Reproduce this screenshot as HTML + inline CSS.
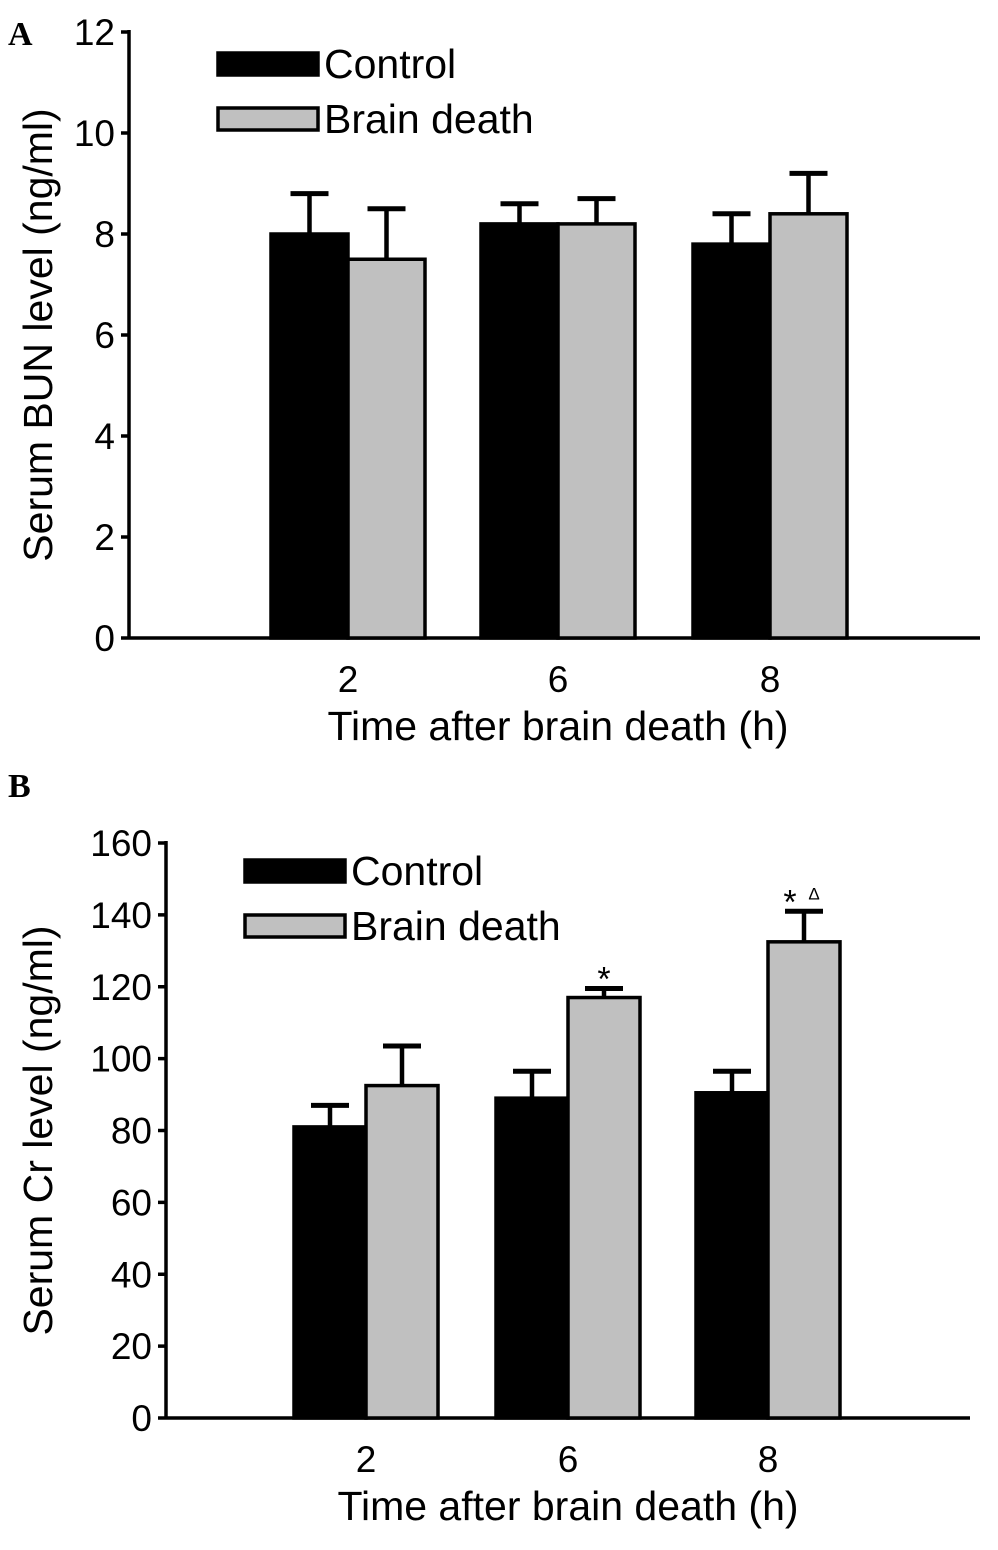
<!DOCTYPE html>
<html><head><meta charset="utf-8"><style>body{margin:0;background:#fff}svg{display:block}text{font-family:"Liberation Sans",Arial,sans-serif;fill:#000}</style></head>
<body>
<svg id="s" width="998" height="1550" viewBox="0 0 998 1550">
<text x="8" y="45" style="font-family:'Liberation Serif',serif;font-weight:bold;font-size:34px">A</text>
<text x="8" y="797" style="font-family:'Liberation Serif',serif;font-weight:bold;font-size:34px">B</text>
</svg>
<script>
const categories=["2","6","8"];
const bunControl=[8.0,8.2,7.8];
const bunControlErr=[0.8,0.4,0.6];
const bunBD=[7.5,8.2,8.4];
const bunBDErr=[1.0,0.5,0.8];
const bunTicks=[0,2,4,6,8,10,12];
const crControl=[81,89,90.5];
const crControlErr=[6,7.5,6];
const crBD=[92.5,117,132.5];
const crBDErr=[11,2.5,8.5];
const crTicks=[0,20,40,60,80,100,120,140,160];
const crMarks=["","*","*"];
const crMarks2=["","","Δ"];
const NS="http://www.w3.org/2000/svg";
const svg=document.getElementById('s');
function mk(t,a,p){const e=document.createElementNS(NS,t);for(const k in a)e.setAttribute(k,a[k]);(p||svg).appendChild(e);return e;}
function panel(o){
  const g=mk('g',{});
  
  
  const y=v=>o.y0-(v-o.min)/(o.max-o.min)*(o.y0-o.yTop);
  const ax=mk('line',{x1:o.ax,y1:o.yTop-2,x2:o.ax,y2:o.y0,stroke:'#000','stroke-width':3.5},g);
  
  const xa=mk('line',{x1:o.ax,y1:o.y0,x2:o.xEnd,y2:o.y0,stroke:'#000','stroke-width':3.5},g);
  
  o.ticks.forEach(t=>{
    const tk=mk('line',{x1:o.ax-8,y1:y(t),x2:o.ax,y2:y(t),stroke:'#000','stroke-width':3.5},g);
    
    const tl=mk('text',{x:o.ax-14,y:y(t)+13,'text-anchor':'end','font-size':37},g);tl.textContent=t;
    
  });
  categories.forEach((c,i)=>{
    const cx=o.cx[i],bw=o.bw;
    const series=[[o.c,o.ce,'#000',cx-bw],[o.b,o.be,'#c0c0c0',cx]];
    series.forEach((s,j)=>{
      const v=s[0][i],e=s[1][i],x=s[3];
      const er=mk('line',{x1:x+bw/2,y1:y(v),x2:x+bw/2,y2:y(v+e),stroke:'#000','stroke-width':4.5},g);
      
      const cp=mk('line',{x1:x+bw/2-19,y1:y(v+e),x2:x+bw/2+19,y2:y(v+e),stroke:'#000','stroke-width':5},g);
      
      const r=mk('rect',{x:x,y:y(v),width:bw,height:o.y0-y(v),fill:s[2],stroke:'#000','stroke-width':3.5},g);
      
      
    });
    const xl=mk('text',{x:cx,y:o.y0+54,'text-anchor':'middle','font-size':37},g);xl.textContent=c;
    
    if(o.m&&o.m[i]){const t=mk('text',{x:cx+bw/2-(o.m2[i]?14:0),y:y(o.b[i]+o.be[i])+2,'text-anchor':'middle','font-size':34},g);t.textContent=o.m[i];
      }
    if(o.m2&&o.m2[i]){const t=mk('text',{x:cx+bw/2+10,y:y(o.b[i]+o.be[i])-12,'text-anchor':'middle','font-size':17},g);t.textContent=o.m2[i];
      }
  });
  const xt=mk('text',{x:o.titleX,y:o.y0+102,'text-anchor':'middle','font-size':41},g);xt.textContent='Time after brain death (h)';
  
  const yt=mk('text',{x:0,y:0,'text-anchor':'middle','font-size':41,transform:`translate(${o.ytx},${(o.y0+o.yTop)/2}) rotate(-90)`},g);yt.textContent=o.ylab;
  
  [['Control','#000',0],['Brain death','#c0c0c0',1]].forEach(l=>{
    const ly=o.legY+l[2]*55;
    const r=mk('rect',{x:o.legX,y:ly-11,width:100,height:22,fill:l[1],stroke:'#000','stroke-width':3.5},g);
    
    const t=mk('text',{x:o.legX+106,y:ly+14,'font-size':41},g);t.textContent=l[0];
    
  });
}
panel({name:'panel-a-bun-chart',ax:129,y0:638,yTop:32,min:0,max:12,xEnd:980,ticks:bunTicks,c:bunControl,ce:bunControlErr,b:bunBD,be:bunBDErr,cx:[348,558,770],bw:77,titleX:558,ytx:52,ylab:'Serum BUN level (ng/ml)',legX:218,legY:64});
panel({name:'panel-b-cr-chart',ax:166,y0:1418,yTop:843,min:0,max:160,xEnd:970,ticks:crTicks,c:crControl,ce:crControlErr,b:crBD,be:crBDErr,cx:[366,568,768],bw:72,titleX:568,ytx:52,ylab:'Serum Cr level (ng/ml)',legX:245,legY:871,m:crMarks,m2:crMarks2});
</script>
</body></html>
